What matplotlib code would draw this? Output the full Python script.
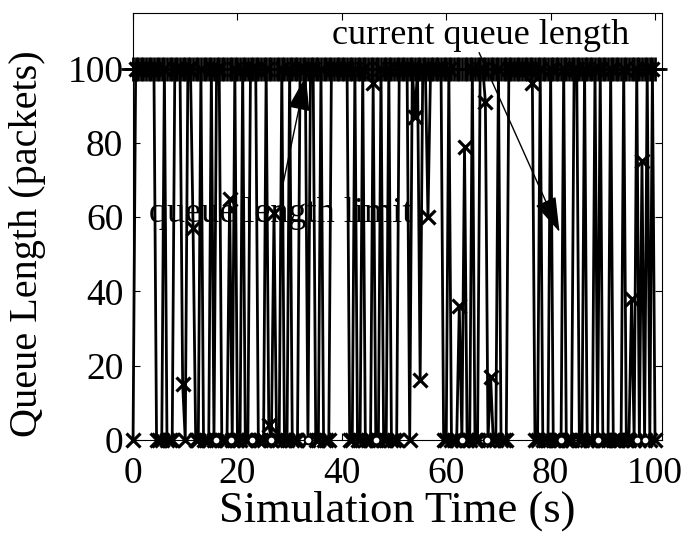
import numpy as np
import matplotlib
matplotlib.use("Agg")
import matplotlib.pyplot as plt

# queue length samples every 0.5 s (one row = 5 s)
queue_len = [
    0, 100, 100, 100, 100, 100, 100, 100, 100, 0,
    0, 0, 100, 0, 0, 0, 100, 100, 100, 15,
    0, 100, 100, 57, 0, 0, 100, 0, 0, 0,
    100, 0, 100, 100, 0, 0, 0, 65, 0, 100,
    0, 0, 100, 0, 0, 100, 100, 100, 0, 0,
    0, 100, 4, 0, 61, 0, 0, 100, 0, 0,
    100, 0, 0, 0, 100, 100, 100, 0, 100, 100,
    0, 0, 100, 0, 0, 0, 100, 100, 100, 100,
    100, 100, 100, 0, 0, 100, 0, 0, 100, 0,
    0, 0, 96, 0, 0, 100, 0, 0, 100, 0,
    0, 0, 100, 100, 100, 100, 0, 100, 87, 100,
    16, 100, 100, 60, 100, 100, 100, 100, 100, 0,
    0, 100, 0, 0, 0, 36, 0, 79, 0, 0,
    100, 0, 0, 100, 100, 91, 0, 17, 0, 0,
    100, 0, 0, 0, 100, 100, 100, 100, 100, 100,
    100, 100, 100, 96, 0, 0, 100, 0, 0, 0,
    100, 0, 0, 0, 0, 100, 0, 0, 0, 100,
    100, 0, 0, 100, 0, 0, 0, 100, 0, 100,
    0, 0, 0, 100, 0, 0, 0, 0, 100, 0,
    0, 38, 0, 100, 0, 75, 0, 100, 0, 100,
    0,
]
sample_step = 0.5
sim_time = np.arange(len(queue_len)) * sample_step

# open circles seen on the zero level
circle_times = [15.8, 18.8, 22.7, 26.5, 33.6, 46.5, 63.0, 67.9, 82.0, 89.0, 96.5, 98.0]
circle_vals = [0] * len(circle_times)

queue_limit = 100
limit_vals = [queue_limit] * len(queue_len)

plt.rcParams['font.family'] = ['Liberation Serif', 'DejaVu Serif']

fig = plt.figure(figsize=(6.93, 5.39), dpi=100)
ax = fig.add_axes([0.192, 0.184, 0.763, 0.792])

# limit line drawn with dense markers -> thick band at 100
ax.plot(sim_time, limit_vals, color='black', lw=2.0, marker='+', ms=17,
        mew=2.0, clip_on=False, zorder=2)
ax.plot(sim_time, queue_len, color='black', lw=2.0, marker='x', ms=10,
        mew=2.3, clip_on=False, zorder=3)
ax.plot(circle_times, circle_vals, ls='none', marker='o', ms=5.5, mfc='white',
        mec='black', mew=1.4, clip_on=False, zorder=4)

ax.set_xlim(0, 101.3)
ax.set_ylim(0, 115)
ax.set_xticks([0, 20, 40, 60, 80, 100])
ax.set_yticks([0, 20, 40, 60, 80, 100])
ax.tick_params(direction='in', length=5, width=0.8, top=True, right=True,
               labelsize=27)
ax.tick_params(axis='x', pad=12)
ax.tick_params(axis='y', pad=7)
for sp in ax.spines.values():
    sp.set_linewidth(0.8)

ax.set_xlabel('Simulation Time (s)', fontsize=32, labelpad=0)
ax.set_ylabel('Queue Length (packets)', fontsize=29)
ax.yaxis.set_label_coords(-0.165, 0.46)

arrow = dict(arrowstyle='-|>,head_length=2.2,head_width=0.7', color='black',
             lw=1.0, shrinkA=0, shrinkB=0)
ax.annotate('', xy=(81.7, 56), xytext=(66.3, 104.3), arrowprops=arrow)
ax.annotate('', xy=(33.1, 98), xytext=(28.5, 67.4), arrowprops=arrow)
ax.text(66.5, 109, 'current queue length', fontsize=26, ha='center', va='center')
ax.text(28.3, 61, 'queue length limit', fontsize=26, ha='center', va='center')

fig.savefig('out.png', dpi=100)
